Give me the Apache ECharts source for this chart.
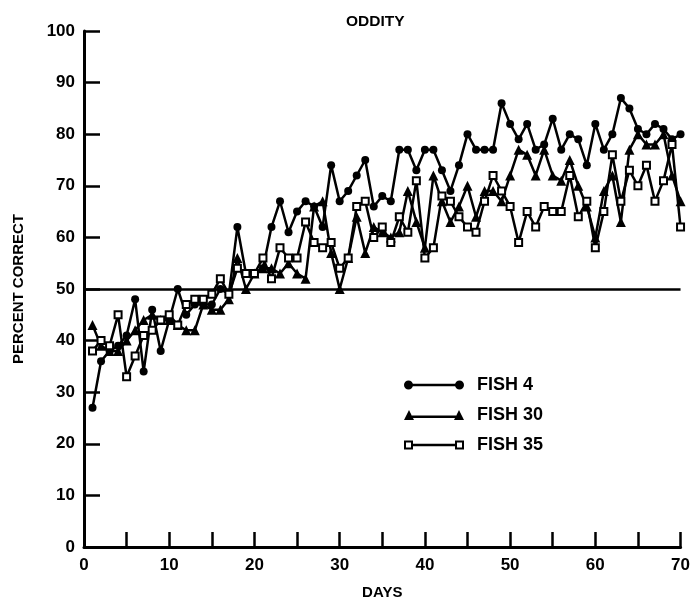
<!DOCTYPE html>
<html>
<head>
<meta charset="utf-8">
<script src="https://cdn.jsdelivr.net/npm/echarts@6/dist/echarts.min.js"></script>
<style>
html,body{margin:0;padding:0;background:#fff;}
#chart{width:693px;height:605px;}
</style>
</head>
<body>
<div id="chart"></div>
<script>
// days 1..70
var days = [];
for (var d = 1; d <= 70; d++) days.push(d);

var fish4 = [27,36,38,39,41,48,34,46,38,44,
	50,45,47,47,47,50,49,62,53,53,
	54,62,67,61,65,67,66,62,74,67,
	69,72,75,66,68,67,77,77,73,77,
	77,73,69,74,80,77,77,77,86,82,
	79,82,77,78,83,77,80,79,74,82,
	77,80,87,85,81,80,82,81,79,80];

var fish30 = [43,39,38,38,40,42,44,45,44,44,
	43,42,42,47,46,46,48,56,50,53,
	54,54,53,55,53,52,66,67,57,50,
	56,64,57,62,61,60,61,69,63,58,
	72,67,63,66,70,64,69,69,67,72,
	77,76,72,77,72,71,75,70,66,60,
	69,72,63,77,80,78,78,80,72,67];

var fish35 = [38,40,39,45,33,37,41,42,44,45,
	43,47,48,48,49,52,49,54,53,53,
	56,52,58,56,56,63,59,58,59,54,
	56,66,67,60,62,59,64,61,71,56,
	58,68,67,64,62,61,67,72,69,66,
	59,65,62,66,65,65,72,64,67,58,
	65,76,67,73,70,74,67,71,78,62];

var seriesNames = ['FISH 4','FISH 30','FISH 35'];
var chanceLevel = 50;

function pairs(vals){
	var out = [];
	for (var i = 0; i < vals.length; i++) out.push([days[i], vals[i]]);
	return out;
}

var font = '"Liberation Sans", Arial, Helvetica, sans-serif';
// legend icons: line with a marker at each end
var iconCircle = 'path://M0,5A4.5,4.5 0 1,1 9,5A4.5,4.5 0 1,1 0,5ZM51,5A4.5,4.5 0 1,1 60,5A4.5,4.5 0 1,1 51,5ZM8,3.75H52V6.25H8Z';
var iconTri = 'path://M0,10L5,0L10,10ZM50,10L55,0L60,10ZM8,5.5H52V8H8Z';
var iconRect = 'path://M0,1H9V10H0ZM2,3V8H7V3ZM9,4.25H51V6.75H9ZM51,1H60V10H51ZM53,3V8H58V3Z';

var chart = echarts.init(document.getElementById('chart'));
var option = {
	animation:false,
	backgroundColor:'#fff',
	title:{
		text:'ODDITY',
		left:341,
		top:9,
		textStyle:{fontFamily:font,fontWeight:'bold',fontSize:15.5,color:'#000'}
	},
	legend:{
		orient:'vertical',
		left:399,
		top:371,
		itemWidth:60,
		itemHeight:10,
		itemGap:12,
		itemStyle:{color:'#000',borderWidth:0},
		textStyle:{fontFamily:font,fontWeight:'bold',fontSize:18,color:'#000',padding:[0,0,0,8]},
		data:[
			{name:seriesNames[0],icon:iconCircle},
			{name:seriesNames[1],icon:iconTri},
			{name:seriesNames[2],icon:iconRect}
		]
	},
	grid:{left:84,right:10,top:31,bottom:56},
	xAxis:{
		type:'value',min:0,max:70,interval:5,
		name:'DAYS',nameLocation:'middle',nameGap:38,
		nameTextStyle:{fontFamily:font,fontWeight:'bold',fontSize:15,color:'#000'},
		axisLine:{show:true,lineStyle:{color:'#000',width:3}},
		axisTick:{show:true,inside:true,length:15,lineStyle:{color:'#000',width:2.5}},
		axisLabel:{
			margin:10,color:'#000',fontFamily:font,fontWeight:'bold',fontSize:17,
			formatter:function(v){return v % 10 === 0 ? String(v) : '';}
		},
		splitLine:{show:false}
	},
	yAxis:{
		type:'value',min:0,max:100,interval:10,
		name:'PERCENT CORRECT',nameLocation:'middle',nameGap:58,nameRotate:90,
		nameTextStyle:{fontFamily:font,fontWeight:'bold',fontSize:15,color:'#000'},
		axisLine:{show:true,lineStyle:{color:'#000',width:3}},
		axisTick:{show:true,inside:true,length:16,lineStyle:{color:'#000',width:2.5}},
		axisLabel:{margin:9,color:'#000',fontFamily:font,fontWeight:'bold',fontSize:17},
		splitLine:{show:false}
	},
	series:[
		{
			name:seriesNames[0],type:'line',data:pairs(fish4),
			symbol:'circle',symbolSize:8,
			itemStyle:{color:'#000',borderWidth:0},
			lineStyle:{color:'#000',width:2.5},
			markLine:{
				silent:true,symbol:'none',label:{show:false},
				lineStyle:{color:'#000',width:2.5,type:'solid'},
				data:[{yAxis:chanceLevel}]
			}
		},
		{
			name:seriesNames[1],type:'line',data:pairs(fish30),
			symbol:'triangle',symbolSize:10,
			itemStyle:{color:'#000',borderWidth:0},
			lineStyle:{color:'#000',width:2.5}
		},
		{
			name:seriesNames[2],type:'line',data:pairs(fish35),
			symbol:'emptyRect',symbolSize:7,
			itemStyle:{color:'#000',borderColor:'#000',borderWidth:2},
			lineStyle:{color:'#000',width:2.5}
		}
	]
};
chart.setOption(option);
</script>
</body>
</html>
